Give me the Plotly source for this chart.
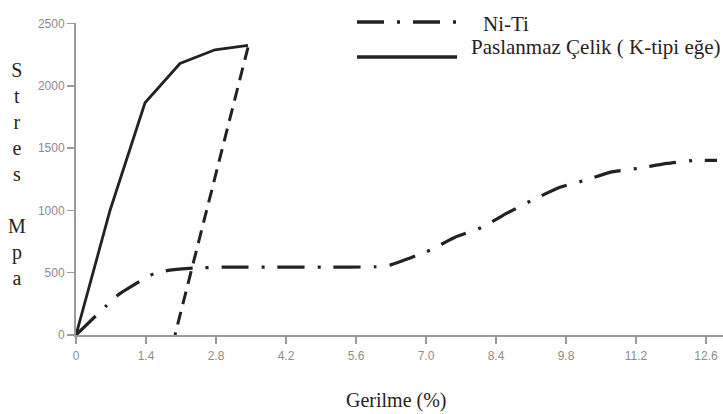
import plotly.graph_objects as go

# ---- data ----
strain_ticks = [0, 1.4, 2.8, 4.2, 5.6, 7.0, 8.4, 9.8, 11.2, 12.6]
strain_tick_labels = ["0", "1.4", "2.8", "4.2", "5.6", "7.0", "8.4", "9.8", "11.2", "12.6"]
stress_ticks = [0, 500, 1000, 1500, 2000, 2500]
stress_tick_labels = ["0", "500", "1000", "1500", "2000", "2500"]

steel_strain = [0, 0.68, 1.38, 2.08, 2.78, 3.44]
steel_stress = [0, 1000, 1865, 2180, 2290, 2325]

steel_unload_strain = [3.44, 1.98]
steel_unload_stress = [2310, 0]

niti_strain = [0, 0.62, 0.84, 1.32, 1.58, 1.88, 2.34, 3.0, 4.0, 5.0, 6.0, 6.28,
               7.08, 7.58, 8.12, 8.62, 9.12, 9.68, 10.18, 10.68, 11.24, 11.82, 12.38, 12.82]
niti_stress = [0, 240, 321, 441, 497, 521, 537, 545, 545, 545, 548, 561,
               681, 785, 865, 978, 1082, 1186, 1242, 1306, 1338, 1378, 1402, 1402]

legend_names = ["Ni-Ti", "Paslanmaz Çelik ( K-tipi eğe)"]
x_title = "Gerilme (%)"
y_title_letters = ["S", "t", "r", "e", "s", "", "M", "p", "a"]

# ---- layout constants ----
W, H = 723, 414
ML, MR, MT, MB = 76, 0, 23, 79
PW, PH = W - ML - MR, H - MT - MB
INK = "#222222"
AXIS = "#9a9a9a"
TEXT = "#2a2220"
SERIF = "Liberation Serif, Times New Roman, serif"
NITI_DASH = "27px,13px,3px,13px"
UNLOAD_DASH = "13px,8px"


def px_x(px):
    return (px - ML) / PW


def px_y(py):
    return (H - MB - py) / PH


fig = go.Figure()
fig.add_trace(go.Scatter(x=steel_strain, y=steel_stress, mode="lines",
                         line=dict(color=INK, width=2.8), name=legend_names[1],
                         showlegend=False))
fig.add_trace(go.Scatter(x=steel_unload_strain, y=steel_unload_stress, mode="lines",
                         line=dict(color=INK, width=3, dash=UNLOAD_DASH),
                         showlegend=False))
fig.add_trace(go.Scatter(x=niti_strain, y=niti_stress, mode="lines",
                         line=dict(color=INK, width=3.2, dash=NITI_DASH, shape="spline",
                                   smoothing=0.5),
                         name=legend_names[0], showlegend=False))

# legend drawn as decoration (long sample lines as in the reference)
fig.add_shape(type="line", xref="paper", yref="paper",
              x0=px_x(357), x1=px_x(457), y0=px_y(22), y1=px_y(22),
              line=dict(color=INK, width=3.5, dash=NITI_DASH))
fig.add_shape(type="line", xref="paper", yref="paper",
              x0=px_x(357), x1=px_x(457), y0=px_y(57), y1=px_y(57),
              line=dict(color=INK, width=3.5))
fig.add_annotation(text=legend_names[0], xref="paper", yref="paper",
                   x=px_x(481), y=px_y(24), xanchor="left", yanchor="middle",
                   showarrow=False, font=dict(family=SERIF, size=21, color=TEXT))
fig.add_annotation(text=legend_names[1], xref="paper", yref="paper",
                   x=px_x(469), y=px_y(47), xanchor="left", yanchor="middle",
                   showarrow=False, font=dict(family=SERIF, size=21, color=TEXT))

# stacked y title
fig.add_annotation(text="<br>".join(y_title_letters), xref="paper", yref="paper",
                   x=px_x(17), y=px_y(174), xanchor="center", yanchor="middle",
                   showarrow=False, align="center",
                   font=dict(family=SERIF, size=20, color=TEXT))

# x title
fig.add_annotation(text=x_title, xref="paper", yref="paper",
                   x=px_x(396), y=px_y(400), xanchor="center", yanchor="middle",
                   showarrow=False, font=dict(family=SERIF, size=20, color=TEXT))

tick_font = dict(family="Liberation Sans, Arial, sans-serif", size=12, color="#8c8c8c")
fig.update_layout(
    width=W, height=H,
    margin=dict(l=ML, r=MR, t=MT, b=MB, pad=0),
    paper_bgcolor="white", plot_bgcolor="white",
    showlegend=False,
    xaxis=dict(range=[0, 12.94], tickvals=strain_ticks, ticktext=strain_tick_labels,
               showgrid=False, zeroline=False, showline=True, linecolor=AXIS,
               linewidth=2, ticks="outside", ticklen=7, tickwidth=1.5, tickcolor=AXIS,
               tickfont=tick_font, ticklabelstandoff=2, fixedrange=True),
    yaxis=dict(range=[0, 2505], tickvals=stress_ticks, ticktext=stress_tick_labels,
               showgrid=False, zeroline=False, showline=True, linecolor=AXIS,
               linewidth=2, ticks="outside", ticklen=7, tickwidth=1.5, tickcolor=AXIS,
               tickfont=tick_font, fixedrange=True),
)

fig.write_html("out.html",
               config={"displayModeBar": False, "staticPlot": True},
               post_script="document.body.style.margin='0';"
                           "document.body.style.overflow='hidden';")
